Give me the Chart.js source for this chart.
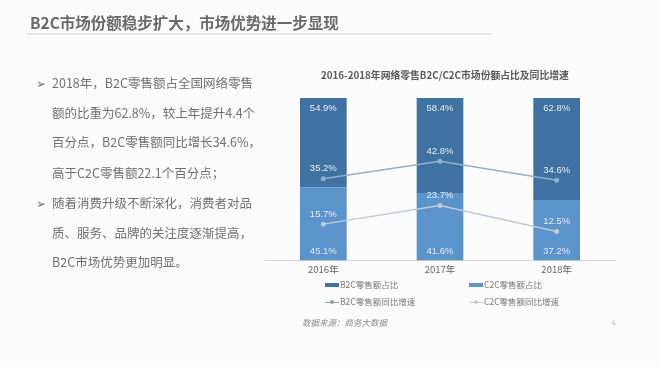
<!DOCTYPE html>
<html><head><meta charset="utf-8">
<script src="https://cdn.jsdelivr.net/npm/chart.js@4"></script>
<style>
html,body{margin:0;padding:0;background:#fcfcfc;width:660px;height:367px;overflow:hidden;font-family:"Noto Sans CJK SC","Noto Sans",sans-serif;}
#wrap{position:relative;width:660px;height:367px;}
#c{position:absolute;left:0;top:0;}
.abs{position:absolute;white-space:nowrap;}
#ptitle{left:30px;top:11px;font-size:15.5px;font-weight:bold;color:#6a6a6a;line-height:22px;}
#uline{left:27px;top:33px;width:465px;height:1px;background:#dedede;box-shadow:0 1px 1px #eee;}
.tl{left:52px;font-size:12.5px;color:#707070;line-height:16px;}
.bul{left:36px;font-size:11.5px;color:#707070;line-height:16px;}
#ctitle{left:321px;top:69px;font-size:9.8px;font-weight:bold;color:#5a5a5a;line-height:13px;}
.lg{font-size:8.5px;color:#7a7a7a;line-height:11px;}
.mk{position:absolute;}
#src{left:302px;top:316px;font-size:8.5px;font-style:italic;color:#8a8a8a;line-height:12px;}
#pn{left:612px;top:317px;font-size:7px;color:#bbb;line-height:10px;}
</style></head>
<body><div id="wrap">
<canvas id="c" width="660" height="367"></canvas>
<div class="abs" id="ptitle">B2C市场份额稳步扩大，市场优势进一步显现</div>
<div class="abs" id="uline"></div>
<div class="abs bul" style="top:75px">➢</div>
<div class="abs tl" style="top:75px">2018年，B2C零售额占全国网络零售</div>
<div class="abs tl" style="top:105px">额的比重为62.8%，较上年提升4.4个</div>
<div class="abs tl" style="top:134px">百分点，B2C零售额同比增长34.6%，</div>
<div class="abs tl" style="top:165px">高于C2C零售额22.1个百分点；</div>
<div class="abs bul" style="top:195px">➢</div>
<div class="abs tl" style="top:195px">随着消费升级不断深化，消费者对品</div>
<div class="abs tl" style="top:225px">质、服务、品牌的关注度逐渐提高，</div>
<div class="abs tl" style="top:254px">B2C市场优势更加明显。</div>
<div class="abs" id="ctitle">2016-2018年网络零售B2C/C2C市场份额占比及同比增速</div>
<div id="legend"></div>
<div class="abs" id="src">数据来源：商务大数据</div>
<div class="abs" id="pn">6</div>
</div>
<script>
const categories = ['2016年', '2017年', '2018年'];
const b2cShare = [54.9, 58.4, 62.8];
const c2cShare = [45.1, 41.6, 37.2];
const b2cGrowth = [35.2, 42.8, 34.6];
const c2cGrowth = [15.7, 23.7, 12.5];
const legendNames = ['B2C零售额占比', 'C2C零售额占比', 'B2C零售额同比增速', 'C2C零售额同比增速'];

const DARK = '#3f71a3', LIGHT = '#5b93cb', L1 = '#93afcd', L2 = '#bccadb';

const labelPlugin = {
  id: 'vlabels',
  afterDatasetsDraw(chart) {
    const ctx = chart.ctx;
    ctx.save();
    ctx.font = '9.5px "Liberation Sans", Arial, sans-serif';
    ctx.textAlign = 'center';
    ctx.textBaseline = 'middle';
    chart.data.datasets.forEach((ds, di) => {
      const meta = chart.getDatasetMeta(di);
      meta.data.forEach((el, i) => {
        const v = ds.data[i].toFixed(1) + '%';
        let y;
        if (ds.key === 'b2cShare') { y = el.y + 10; ctx.fillStyle = '#e4ecf5'; }
        else if (ds.key === 'c2cShare') { y = el.base - 9; ctx.fillStyle = '#e4ecf5'; }
        else { y = el.y - 10; ctx.fillStyle = '#e6eef8'; }
        ctx.fillText(v, el.x, y);
      });
    });
    ctx.restore();
  }
};

const chart = new Chart(document.getElementById('c'), {
  data: {
    labels: categories,
    datasets: [
      { key: 'b2cGrowth', type: 'line', label: legendNames[2], data: b2cGrowth, yAxisID: 'y2',
        borderColor: L1, backgroundColor: L1, borderWidth: 1.5, pointRadius: 2.5, pointBackgroundColor: L1, pointBorderWidth: 0, tension: 0 },
      { key: 'c2cGrowth', type: 'line', label: legendNames[3], data: c2cGrowth, yAxisID: 'y2',
        borderColor: L2, backgroundColor: L2, borderWidth: 1.5, pointRadius: 2.5, pointBackgroundColor: L2, pointBorderWidth: 0, tension: 0 },
      { key: 'c2cShare', type: 'bar', label: legendNames[1], data: c2cShare, yAxisID: 'y',
        backgroundColor: LIGHT, barPercentage: 0.8, categoryPercentage: 0.5 },
      { key: 'b2cShare', type: 'bar', label: legendNames[0], data: b2cShare, yAxisID: 'y',
        backgroundColor: DARK, barPercentage: 0.8, categoryPercentage: 0.5 }
    ]
  },
  options: {
    responsive: false,
    animation: false,
    layout: { padding: { left: 265, right: 45, top: 98, bottom: 89 } },
    plugins: { legend: { display: false }, tooltip: { enabled: false }, title: { display: false } },
    scales: {
      x: {
        stacked: true,
        grid: { display: false, drawTicks: false },
        border: { display: true, color: '#d6d6d6' },
        ticks: { color: '#666', font: { size: 9.5, family: '"Noto Sans CJK SC", sans-serif' }, padding: 3 }
      },
      y: { stacked: true, display: false, min: 0, max: 100 },
      y2: { display: false, min: 0, max: 70 }
    }
  },
  plugins: [labelPlugin]
});

// HTML legend built from dataset names
const lg = document.getElementById('legend');
const items = [
  { name: legendNames[0], x: 325, y: 285, kind: 'rect', color: DARK },
  { name: legendNames[1], x: 469, y: 285, kind: 'rect', color: LIGHT },
  { name: legendNames[2], x: 325, y: 302, kind: 'line', color: '#8aa3bf' },
  { name: legendNames[3], x: 469, y: 302, kind: 'line', color: '#c3ced9' }
];
items.forEach(it => {
  if (it.kind === 'rect') {
    const m = document.createElement('div'); m.className = 'mk';
    m.style.cssText = `left:${it.x}px;top:${it.y - 2}px;width:14px;height:4px;background:${it.color}`;
    lg.appendChild(m);
  } else {
    const m = document.createElement('div'); m.className = 'mk';
    m.style.cssText = `left:${it.x}px;top:${it.y - 0.5}px;width:14px;height:1.5px;background:${it.color}`;
    lg.appendChild(m);
    const d = document.createElement('div'); d.className = 'mk';
    d.style.cssText = `left:${it.x + 5}px;top:${it.y - 2}px;width:4px;height:4px;border-radius:2px;background:${it.color}`;
    lg.appendChild(d);
  }
  const t = document.createElement('div'); t.className = 'abs lg';
  t.style.left = (it.x + 15) + 'px'; t.style.top = (it.y - 6) + 'px';
  t.textContent = it.name;
  lg.appendChild(t);
});
</script>
</body></html>
